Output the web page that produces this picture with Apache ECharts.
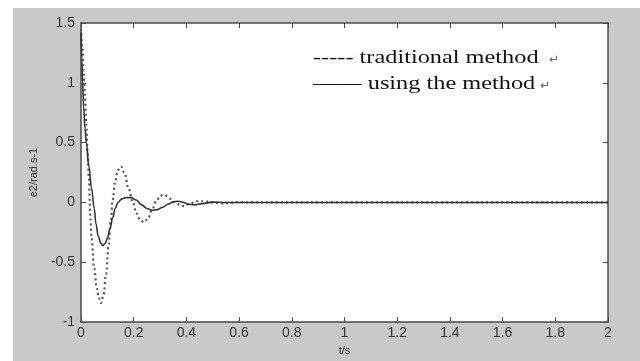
<!DOCTYPE html>
<html>
<head>
<meta charset="utf-8">
<script src="https://cdn.jsdelivr.net/npm/echarts@6/dist/echarts.min.js"></script>
<style>
  html, body { margin: 0; padding: 0; background: #fff; }
  #chart { position: absolute; left: 13px; top: 8px; width: 627px; height: 353px; }
</style>
</head>
<body>
<div id="chart"></div>
<script>
// traditional method (dotted)
const tradT = [0, 0.005, 0.01, 0.015, 0.02, 0.025, 0.03, 0.035, 0.04, 0.05, 0.06, 0.068, 0.076, 0.085, 0.095, 0.105, 0.113, 0.12, 0.13, 0.14, 0.152, 0.165, 0.18, 0.197, 0.21, 0.225, 0.24, 0.255, 0.27, 0.285, 0.3, 0.31, 0.325, 0.34, 0.36, 0.38, 0.39, 0.41, 0.44, 0.47, 0.5, 0.53, 0.56, 0.6, 0.65, 0.7, 2]
const tradV = [1.45, 1.3, 1.1, 0.9, 0.65, 0.42, 0.2, -0.1, -0.3, -0.55, -0.72, -0.8, -0.84, -0.78, -0.6, -0.35, -0.15, 0.02, 0.18, 0.27, 0.3, 0.25, 0.12, 0.0, -0.09, -0.15, -0.165, -0.13, -0.06, 0.01, 0.05, 0.065, 0.055, 0.03, -0.005, -0.025, -0.03, -0.015, 0.01, 0.01, 0.0, -0.008, -0.004, 0.003, 0.0, 0.0, 0.0]

// using the method (solid)
const usedT = [0, 0.003, 0.006, 0.01, 0.015, 0.02, 0.03, 0.04, 0.05, 0.057, 0.065, 0.075, 0.083, 0.092, 0.1, 0.11, 0.12, 0.13, 0.14, 0.155, 0.17, 0.19, 0.21, 0.23, 0.25, 0.27, 0.29, 0.31, 0.33, 0.35, 0.37, 0.39, 0.41, 0.43, 0.46, 0.5, 0.55, 2]
const usedV = [1.42, 1.2, 1.0, 0.8, 0.62, 0.5, 0.3, 0.12, -0.05, -0.18, -0.28, -0.34, -0.36, -0.34, -0.3, -0.22, -0.13, -0.05, 0.0, 0.03, 0.04, 0.04, 0.02, -0.02, -0.05, -0.065, -0.06, -0.04, -0.015, 0.005, 0.01, 0.0, -0.015, -0.02, -0.01, 0.003, 0.0, 0.0]

const xTicks = { min: 0, max: 2, interval: 0.2 }
const yTicks = { min: -1, max: 1.5, interval: 0.5 }

const tradData = tradT.map((t, i) => [t, tradV[i]])
const usedData = usedT.map((t, i) => [t, usedV[i]])

const axisColor = '#4a4a4a'
const labelStyle = { color: '#333', fontSize: 14, fontFamily: 'Liberation Sans, Arial, sans-serif' }
const legendFont = '19px "Liberation Serif", "Times New Roman", serif'

const chart = echarts.init(document.getElementById('chart'))

const xBase = {
  type: 'value',
  min: xTicks.min,
  max: xTicks.max,
  interval: xTicks.interval,
  splitLine: { show: false },
  axisLine: { show: true, onZero: false, lineStyle: { color: axisColor, width: 1.5 } },
  axisTick: { show: true, inside: true, length: 5, lineStyle: { color: axisColor } },
}
const yBase = {
  type: 'value',
  min: yTicks.min,
  max: yTicks.max,
  interval: yTicks.interval,
  splitLine: { show: false },
  axisLine: { show: true, onZero: false, lineStyle: { color: axisColor, width: 1.5 } },
  axisTick: { show: true, inside: true, length: 5, lineStyle: { color: axisColor } },
}

chart.setOption({
  backgroundColor: '#c9c9c9',
  animation: false,
  grid: { left: 68, top: 15, right: 32, bottom: 29, show: true, backgroundColor: '#fff', borderWidth: 0 },
  xAxis: [
    {
      ...xBase,
      position: 'bottom',
      name: 't/s',
      nameLocation: 'middle',
      nameGap: 19,
      nameTextStyle: { color: '#333', fontSize: 11, fontFamily: 'Liberation Sans, Arial, sans-serif' },
      axisLabel: { ...labelStyle, margin: 4, formatter: v => String(+v.toFixed(1)) },
    },
    { ...xBase, position: 'top', axisLabel: { show: false } },
  ],
  yAxis: [
    {
      ...yBase,
      position: 'left',
      name: 'e2/rad.s-1',
      nameLocation: 'middle',
      nameGap: 42,
      nameTextStyle: { color: '#333', fontSize: 11, fontFamily: 'Liberation Sans Narrow, Liberation Sans, Arial, sans-serif' },
      axisLabel: { ...labelStyle, margin: 6 },
    },
    { ...yBase, position: 'right', axisLabel: { show: false } },
  ],
  graphic: [
    {
      type: 'text', left: 300, top: 41, scaleX: 1.28,
      style: { text: '----- traditional method', fill: '#111', font: legendFont },
    },
    {
      type: 'text', left: 300, top: 67, scaleX: 1.28,
      style: { text: '\u2014\u2014 using the method', fill: '#111', font: legendFont },
    },
    {
      type: 'text', left: 536, top: 46,
      style: { text: '\u21b5', fill: '#666', font: '12px "DejaVu Sans", sans-serif' },
    },
    {
      type: 'text', left: 527, top: 72,
      style: { text: '\u21b5', fill: '#666', font: '12px "DejaVu Sans", sans-serif' },
    },
  ],
  series: [
    {
      name: 'traditional method',
      type: 'line',
      data: tradData,
      showSymbol: false,
      smooth: 0.4,
      smoothMonotone: 'x',
      lineStyle: { color: '#555', width: 2.2, type: [2, 3] },
    },
    {
      name: 'using the method',
      type: 'line',
      data: usedData,
      showSymbol: false,
      smooth: 0.4,
      smoothMonotone: 'x',
      lineStyle: { color: '#333', width: 1.6 },
    },
  ],
})
</script>
</body>
</html>
